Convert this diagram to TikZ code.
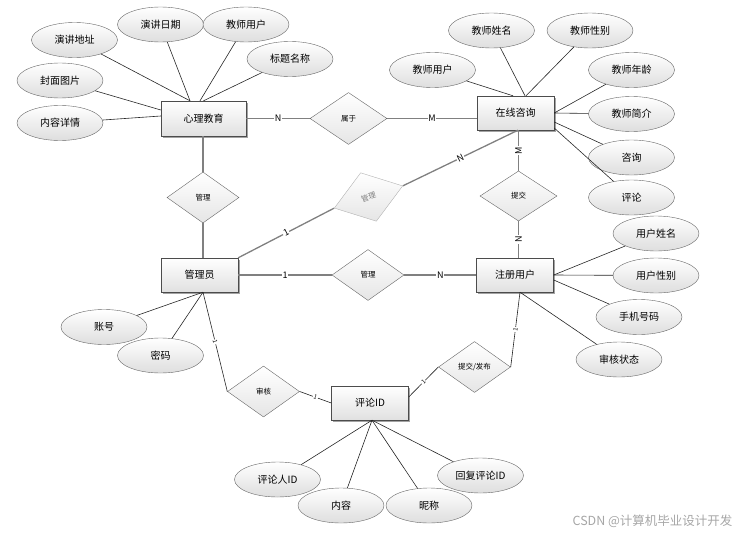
\documentclass[tikz,border=0pt]{standalone}
\usepackage{fontspec}
\setmainfont{Noto Sans CJK SC}
\usetikzlibrary{shapes.geometric,shadows}

\begin{document}
\begin{tikzpicture}[x=1pt, y=-1pt,
    entity/.style={draw=black!70, rectangle, minimum width=77pt, minimum height=34pt, top color=white, bottom color=black!12, drop shadow={shadow xshift=1.5pt, shadow yshift=-1.5pt, fill=black!45, opacity=0.8}, font=\fontsize{10}{12}\selectfont},
    attr/.style={draw=black!60, ellipse, minimum width=86pt, minimum height=35pt, inner sep=0pt, top color=white, bottom color=black!13, font=\fontsize{10}{12}\selectfont},
    rel/.style={draw=black!60, diamond, minimum width=72pt, minimum height=51pt, inner sep=0pt, top color=white, bottom color=black!10, font=\fontsize{7.5}{9}\selectfont},
    link/.style={draw=black!50, line width=1.3pt},
    attrline/.style={draw=black!85, line width=0.6pt},
    card/.style={fill=white, inner sep=0.8pt, text=black, font=\fontsize{9}{10}\selectfont}]
    \useasboundingbox (0,0) rectangle (744,535);

    % entities
    \node[entity, minimum width=85pt, minimum height=35pt] (xl) at (203.5,118.5) {心理教育};
    \node[entity] (zx) at (515.5,113) {在线咨询};
    \node[entity] (gly) at (199.5,275) {管理员};
    \node[entity] (zc) at (515,275) {注册用户};
    \node[entity] (pl) at (370,403) {评论ID};

    % relationships
    \node[rel, minimum width=77pt, minimum height=52pt] (sy) at (348.5,118.5) {属于};
    \node[rel] (gl1) at (203,197.5) {管理};
    \node[rel, rotate=18, draw=black!30, text=black!50] (gl2) at (368.5,197) {管理};
    \node[rel] (gl3) at (368,275) {管理};
    \node[rel, minimum width=77pt, minimum height=50pt] (tj) at (518.5,196) {提交};
    \node[rel] (sh) at (263.5,391.5) {审核};
    \node[rel] (tf) at (474.5,367) {提交/发布};

    % attributes
    \node[attr] (a1) at (74.5,40) {演讲地址};
    \node[attr] (a2) at (160.5,24.5) {演讲日期};
    \node[attr] (a3) at (246,24.5) {教师用户};
    \node[attr] (a4) at (290,59) {标题名称};
    \node[attr] (a5) at (60,80.5) {封面图片};
    \node[attr] (a6) at (60,123) {内容详情};
    \node[attr] (b1) at (432.5,70) {教师用户};
    \node[attr] (b2) at (491.5,30.5) {教师姓名};
    \node[attr] (b3) at (590,30.5) {教师性别};
    \node[attr] (b4) at (631.5,70) {教师年龄};
    \node[attr] (b5) at (631.5,114) {教师简介};
    \node[attr] (b6) at (631.5,157.5) {咨询};
    \node[attr] (b7) at (631.5,197.5) {评论};
    \node[attr] (c1) at (656,233.5) {用户姓名};
    \node[attr] (c2) at (656,275.5) {用户性别};
    \node[attr] (c3) at (639,317) {手机号码};
    \node[attr] (c4) at (619,359.5) {审核状态};
    \node[attr] (d1) at (104,327) {账号};
    \node[attr] (d2) at (160.5,355.5) {密码};
    \node[attr] (e1) at (277.5,479.5) {评论人ID};
    \node[attr] (e2) at (341,505.5) {内容};
    \node[attr] (e3) at (429,505.5) {昵称};
    \node[attr] (e4) at (480.5,475.5) {回复评论ID};

    \node[text=black!35, anchor=east, font=\fontsize{12.5}{14}\selectfont] (wm) at (736,521) {CSDN @计算机毕业设计开发};

    % attribute lines
    \draw[attrline] (a1) -- ([xshift=-13.5pt]xl.north);
    \draw[attrline] (a2) -- ([xshift=-13.5pt]xl.north);
    \draw[attrline] (a3) -- ([xshift=-3.5pt]xl.north);
    \draw[attrline] (a4) -- (xl.north);
    \draw[attrline] (a5) -- ([yshift=8.5pt]xl.west);
    \draw[attrline] (a6) -- ([yshift=2.5pt]xl.west);
    \draw[attrline] (b1) -- ([xshift=-2.5pt]zx.north);
    \draw[attrline] (b2) -- ([xshift=9.5pt]zx.north);
    \draw[attrline] (b3) -- ([xshift=10.5pt]zx.north);
    \draw[attrline] (b4) -- (zx.east);
    \draw[attrline] (b5) -- (zx.east);
    \draw[attrline] (b6) -- ([yshift=-9pt]zx.east);
    \draw[attrline] (b7) -- ([yshift=-15pt]zx.east);
    \draw[attrline] (c1) -- (zc.east);
    \draw[attrline] (c2) -- (zc.east);
    \draw[attrline] (c3) -- ([yshift=-5pt]zc.east);
    \draw[attrline] (c4) -- ([xshift=5pt]zc.south);
    \draw[attrline] (d1) -- ([xshift=3.5pt]gly.south);
    \draw[attrline] (d2) -- ([xshift=3.5pt]gly.south);
    \foreach \e in {e1,e2,e3,e4}
        \draw[attrline] (\e) -- ([xshift=2pt]pl.south);

    % relationship lines
    \draw[link] (xl.east) -- node[card] {N} (sy.west);
    \draw[link] (sy.east) -- node[card] {M} (sy.east -| zx.west);
    \draw[link] (xl.south -| gl1) -- (gl1.north);
    \draw[link] (gl1.south) -- (gl1 |- gly.north);
    \draw[link] (gly.east) -- node[card] {1} (gl3.west);
    \draw[link] (gl3.east) -- node[card] {N} (zc.west);
    \draw[link] (gly.north east) -- node[card, sloped] {1} (gl2.west);
    \draw[link] (gl2.east) -- node[card, sloped] {N} ([xshift=2.5pt]zx.south);
    \draw[link] (tj.north |- zx.south) -- node[card, rotate=90] {M} (tj.north);
    \draw[link] (tj.south) -- node[card, rotate=90] {N} (tj.south |- zc.north);
    \draw[attrline] ([xshift=3.5pt]gly.south) -- node[card, sloped, font=\fontsize{6}{7}\selectfont] {1} (sh.west);
    \draw[attrline] (sh.east) -- node[card, sloped, font=\fontsize{6}{7}\selectfont] {1} (pl.west);
    \draw[attrline] ([yshift=6pt]pl.east) -- node[card, sloped, font=\fontsize{6}{7}\selectfont] {1} (tf.west);
    \draw[attrline] (tf.east) -- node[card, sloped, font=\fontsize{6}{7}\selectfont] {1} ([xshift=5pt]zc.south);
\end{tikzpicture}
\end{document}
